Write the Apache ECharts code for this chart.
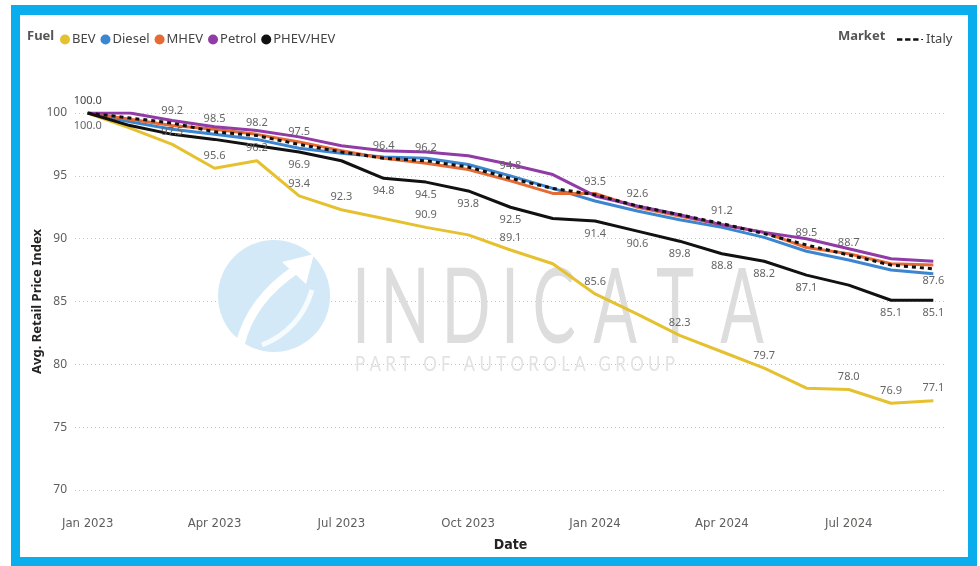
<!DOCTYPE html>
<html>
<head>
<meta charset="utf-8">
<script src="https://cdn.jsdelivr.net/npm/echarts@6/dist/echarts.min.js"></script>
<style>
  html, body { margin: 0; padding: 0; background: #ffffff; }
  #chart { position: absolute; left: 0; top: 0; width: 980px; height: 566px; }
  #frame { position: absolute; left: 11px; top: 5px; width: 966px; height: 561px; box-sizing: border-box;
           border-style: solid; border-color: #0BAEEC; border-width: 10px 9px 9px 9px; pointer-events: none; }
</style>
</head>
<body>
<div id="chart"></div>
<div id="frame"></div>
<script>
// ---- data ----
const months = ['Jan 2023','Feb 2023','Mar 2023','Apr 2023','May 2023','Jun 2023','Jul 2023','Aug 2023','Sep 2023','Oct 2023','Nov 2023','Dec 2023',
                'Jan 2024','Feb 2024','Mar 2024','Apr 2024','May 2024','Jun 2024','Jul 2024','Aug 2024','Sep 2024'];
const tickLabels = ['Jan 2023','Apr 2023','Jul 2023','Oct 2023','Jan 2024','Apr 2024','Jul 2024'];
const yTicks = [70, 75, 80, 85, 90, 95, 100];

const bev    = [100.0, 98.8, 97.5, 95.6, 96.2, 93.4, 92.3, 91.6, 90.9, 90.3, 89.1, 88.0, 85.6, 84.0, 82.3, 81.0, 79.7, 78.1, 78.0, 76.9, 77.1];
const diesel = [100.0, 99.3, 98.7, 98.3, 97.9, 97.2, 96.8, 96.5, 96.4, 95.9, 95.0, 94.0, 93.0, 92.2, 91.5, 90.9, 90.1, 89.0, 88.3, 87.5, 87.2];
const mhev   = [100.0, 99.5, 99.0, 98.7, 98.3, 97.7, 97.0, 96.4, 96.0, 95.5, 94.6, 93.6, 93.6, 92.5, 91.8, 91.1, 90.5, 89.3, 88.8, 88.0, 87.9];
const petrol = [100.0, 100.0, 99.4, 98.9, 98.6, 98.1, 97.4, 97.0, 96.9, 96.6, 95.9, 95.1, 93.4, 92.6, 91.9, 91.1, 90.5, 90.0, 89.2, 88.4, 88.2];
const phev   = [100.0, 99.0, 98.3, 97.9, 97.4, 96.9, 96.2, 94.8, 94.5, 93.8, 92.5, 91.6, 91.4, 90.6, 89.8, 88.8, 88.2, 87.1, 86.3, 85.1, 85.1];
const italy  = [100.0, 99.6, 99.2, 98.5, 98.2, 97.5, 96.9, 96.4, 96.2, 95.7, 94.8, 94.0, 93.5, 92.6, 91.9, 91.2, 90.4, 89.5, 88.7, 87.9, 87.6];

// indices of points whose value label is shown in the reference
const bevLabelIdx   = [0, 2, 3, 4, 5, 6, 8, 10, 12, 14, 16, 18, 19, 20];
const phevLabelIdx  = [5, 7, 8, 9, 10, 12, 13, 14, 15, 16, 17, 19, 20];
const italyLabelIdx = [0, 2, 3, 4, 5, 7, 8, 10, 12, 13, 15, 17, 18, 20];

// ---- chart ----
const FONT = "'Segoe UI', 'Noto Sans', sans-serif";
const NARROW = "'Liberation Sans Narrow', 'DejaVu Sans Condensed', 'Noto Sans', sans-serif";
const chart = echarts.init(document.getElementById('chart'), null, { renderer: 'canvas' });

function pts(arr, labelIdx, posFn) {
  return arr.map((v, i) => {
    const item = { value: [i, v] };
    if (labelIdx && labelIdx.indexOf(i) >= 0) {
      item.label = { show: true, position: posFn(i) };
    }
    return item;
  });
}

const labelBase = { show: false, fontFamily: FONT, fontSize: 11, color: '#666666', distance: 7,
                    formatter: p => p.value[1].toFixed(1) };

function lineSeries(name, color, data, extra) {
  return Object.assign({
    name: name, type: 'line', data: data, symbol: 'circle', symbolSize: 0.01, showSymbol: true,
    lineStyle: { color: color, width: 3 }, itemStyle: { color: color },
    label: labelBase, labelLayout: { hideOverlap: false }, emphasis: { disabled: true }, animation: false
  }, extra || {});
}

// measure helper for watermark
const cv = document.createElement('canvas').getContext('2d');
function measure(text, font) { cv.font = font; return cv.measureText(text).width; }

const wmColor = '#dddddd';
const letters = [['I', 361], ['N', 405], ['D', 466], ['I', 510], ['C', 554], ['A', 615], ['T', 675], ['A', 742]];
const wmGraphics = letters.map(([ch, x]) => ({
  type: 'text', x: x, y: 309, scaleX: 0.62, z: 1, silent: true,
  style: { text: ch, x: 0, y: 0, align: 'center', verticalAlign: 'middle', fill: wmColor,
           font: "normal 104px 'Lato', 'Noto Sans', sans-serif" }
}));
const subText = 'PART OF AUTOROLA GROUP';
const subFont = "normal 22px 'Lato', 'Noto Sans', sans-serif";
const subW = measure(subText.split('').join(' '), subFont);
wmGraphics.push({
  type: 'text', x: 355, y: 364, scaleX: 320 / subW, z: 1, silent: true,
  style: { text: subText.split('').join(' '), x: 0, y: 0, align: 'left', verticalAlign: 'middle', fill: '#e2e2e2', font: subFont }
});
// logo
wmGraphics.push({ type: 'circle', z: 1, silent: true, shape: { cx: 274, cy: 296, r: 56 }, style: { fill: '#d3e9f7' } });
wmGraphics.push({ type: 'bezierCurve', z: 1, silent: true,
  shape: { x1: 240, y1: 345, x2: 298, y2: 268, cpx1: 250, cpy1: 300 },
  style: { stroke: '#ffffff', lineWidth: 9, fill: null } });
wmGraphics.push({ type: 'bezierCurve', z: 1, silent: true,
  shape: { x1: 262, y1: 345, x2: 312, y2: 290, cpx1: 300, cpy1: 330 },
  style: { stroke: '#ffffff', lineWidth: 5, fill: null, opacity: 0.8 } });
wmGraphics.push({ type: 'polygon', z: 1, silent: true,
  shape: { points: [[282, 262], [314, 254], [306, 284]] }, style: { fill: '#ffffff' } });

// legend headings
wmGraphics.push({ type: 'text', left: 27, top: 30, z: 5,
  style: { text: 'Fuel', font: "bold 13px " + FONT, fill: '#555555' } });
wmGraphics.push({ type: 'text', left: 838, top: 30, z: 5,
  style: { text: 'Market', font: "bold 13px " + FONT, fill: '#555555' } });

const dashIcon = 'path://M0,0h6v3h-6z M9,0h6v3h-6z M18,0h6v3h-6z M27,1h2v1h-2z';

const option = {
  backgroundColor: '#ffffff',
  animation: false,
  textStyle: { fontFamily: FONT },
  graphic: wmGraphics,
  legend: [
    {
      data: ['BEV', 'Diesel', 'MHEV', 'Petrol', 'PHEV/HEV'],
      left: 55, top: 28, icon: 'circle', itemWidth: 10, itemHeight: 10, itemGap: 5,
      textStyle: { fontFamily: FONT, fontSize: 13, color: '#444444', padding: [0, 0, 0, -3] },
      selectedMode: false
    },
    {
      data: [{ name: 'Italy', icon: dashIcon }],
      left: 892, top: 28, itemWidth: 26, itemHeight: 3, itemGap: 6,
      itemStyle: { color: '#111111' },
      textStyle: { fontFamily: FONT, fontSize: 13, color: '#444444', padding: [0, 0, 0, -2] },
      selectedMode: false
    }
  ],
  grid: { left: 75, right: 34, top: 113, bottom: 76, containLabel: false },
  xAxis: {
    type: 'value', min: -0.3, max: 20.3,
    name: 'Date', nameLocation: 'middle', nameGap: 48,
    nameTextStyle: { fontFamily: NARROW, fontSize: 14, fontWeight: 'bold', color: '#252423' },
    axisLine: { show: false }, axisTick: { show: false }, splitLine: { show: false },
    axisLabel: {
      customValues: tickLabels.map(t => months.indexOf(t)),
      formatter: v => months[Math.round(v)] || '',
      margin: 27, fontFamily: NARROW, fontSize: 13, color: '#605E5C', hideOverlap: false
    }
  },
  yAxis: {
    type: 'value', min: yTicks[0], max: yTicks[yTicks.length - 1], interval: 5,
    name: 'Avg. Retail Price Index', nameLocation: 'middle', nameGap: 31, nameMoveOverlap: false,
    nameTextStyle: { fontFamily: FONT, fontSize: 13, fontWeight: 'bold', color: '#252423' },
    axisLine: { show: false }, axisTick: { show: false },
    axisLabel: { margin: 8, fontFamily: FONT, fontSize: 12, color: '#605E5C' },
    splitLine: { show: true, lineStyle: { color: '#c8c8c8', type: [1, 3], width: 1 } }
  },
  series: [
    lineSeries('BEV', '#E6C12F', pts(bev, bevLabelIdx, i => i === 0 ? 'bottom' : 'top')),
    lineSeries('Diesel', '#3C85D0', pts(diesel)),
    lineSeries('MHEV', '#E56A34', pts(mhev)),
    lineSeries('Petrol', '#913BA6', pts(petrol)),
    lineSeries('PHEV/HEV', '#111111', pts(phev, phevLabelIdx, () => 'bottom')),
    lineSeries('Italy', '#111111', pts(italy, italyLabelIdx, i => i === 20 ? 'bottom' : 'top'),
      { lineStyle: { color: '#111111', width: 3, type: [4, 4] } })
  ]
};
option.series[5].data[0].label.color = '#444444';
chart.setOption(option);
</script>
</body>
</html>
